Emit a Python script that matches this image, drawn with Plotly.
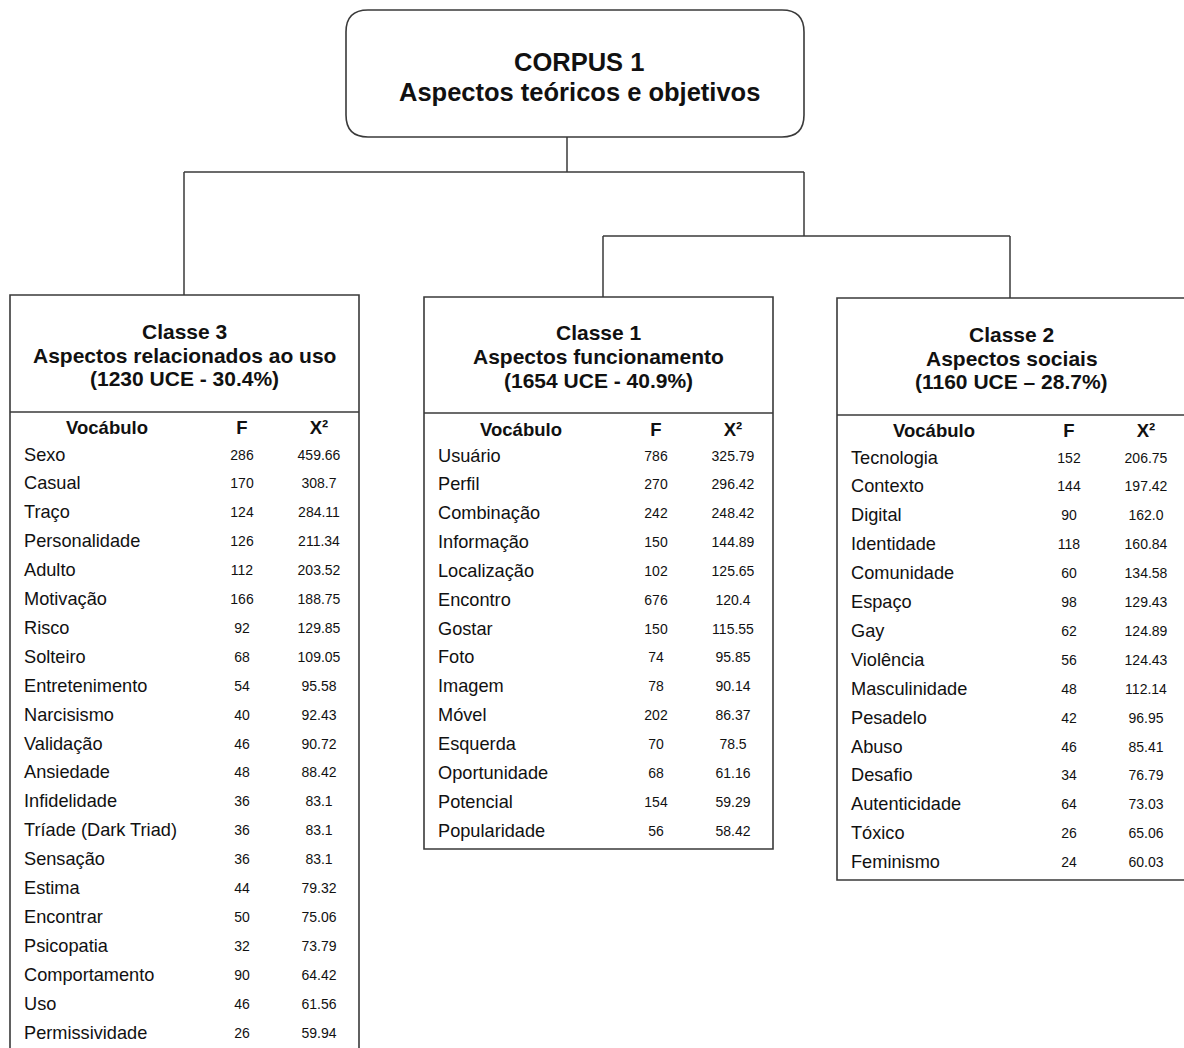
import plotly.graph_objects as go

# ---------------- data ----------------
corpus_title = ["CORPUS 1", "Aspectos teóricos e objetivos"]

col_headers = ["Vocábulo", "F", "X²"]

class3_title = ["Classe 3", "Aspectos relacionados ao uso", "(1230 UCE - 30.4%)"]
class3_words = ["Sexo", "Casual", "Traço", "Personalidade", "Adulto", "Motivação", "Risco",
                "Solteiro", "Entretenimento", "Narcisismo", "Validação", "Ansiedade",
                "Infidelidade", "Tríade (Dark Triad)", "Sensação", "Estima", "Encontrar",
                "Psicopatia", "Comportamento", "Uso", "Permissividade"]
class3_f = [286, 170, 124, 126, 112, 166, 92, 68, 54, 40, 46, 48, 36, 36, 36, 44, 50, 32, 90, 46, 26]
class3_x2 = [459.66, 308.7, 284.11, 211.34, 203.52, 188.75, 129.85, 109.05, 95.58, 92.43, 90.72,
             88.42, 83.1, 83.1, 83.1, 79.32, 75.06, 73.79, 64.42, 61.56, 59.94]

class1_title = ["Classe 1", "Aspectos funcionamento", "(1654 UCE - 40.9%)"]
class1_words = ["Usuário", "Perfil", "Combinação", "Informação", "Localização", "Encontro",
                "Gostar", "Foto", "Imagem", "Móvel", "Esquerda", "Oportunidade", "Potencial",
                "Popularidade"]
class1_f = [786, 270, 242, 150, 102, 676, 150, 74, 78, 202, 70, 68, 154, 56]
class1_x2 = [325.79, 296.42, 248.42, 144.89, 125.65, 120.4, 115.55, 95.85, 90.14, 86.37, 78.5,
             61.16, 59.29, 58.42]

class2_title = ["Classe 2", "Aspectos sociais", "(1160 UCE – 28.7%)"]
class2_words = ["Tecnologia", "Contexto", "Digital", "Identidade", "Comunidade", "Espaço", "Gay",
                "Violência", "Masculinidade", "Pesadelo", "Abuso", "Desafio", "Autenticidade",
                "Tóxico", "Feminismo"]
class2_f = [152, 144, 90, 118, 60, 98, 62, 56, 48, 42, 46, 34, 64, 26, 24]
class2_x2 = [206.75, 197.42, 162.0, 160.84, 134.58, 129.43, 124.89, 124.43, 112.14, 96.95, 85.41,
             76.79, 73.03, 65.06, 60.03]

# ---------------- layout constants ----------------
W, H = 1184, 1048
LINE = "#3a3a3a"
TXT = "#111111"
FONT = "Liberation Sans, Arial, sans-serif"

panels = [
    dict(title=class3_title, words=class3_words, f=class3_f, x2=class3_x2,
         left=10, right=359, top=295, div=412, bottom=1070,
         head_y=429, row0=456, step=28.9, title_y=[331, 355, 378]),
    dict(title=class1_title, words=class1_words, f=class1_f, x2=class1_x2,
         left=424, right=773, top=297, div=413, bottom=849,
         head_y=431, row0=457, step=28.85, title_y=[332, 356, 380]),
    dict(title=class2_title, words=class2_words, f=class2_f, x2=class2_x2,
         left=837, right=1190, top=298, div=415, bottom=880,
         head_y=432, row0=459, step=28.9, title_y=[334, 358, 381]),
]
OFF_WORD, OFF_VOC, OFF_F, OFF_X2 = 14, 97, 232, 309

fig = go.Figure()
shapes = []
annotations = []

# top rounded box
bx0, bx1, by0, by1, r = 346, 804, 10, 137, 22
path = (f"M {bx0+r},{by0} L {bx1-r},{by0} Q {bx1},{by0} {bx1},{by0+r} "
        f"L {bx1},{by1-r} Q {bx1},{by1} {bx1-r},{by1} L {bx0+r},{by1} "
        f"Q {bx0},{by1} {bx0},{by1-r} L {bx0},{by0+r} Q {bx0},{by0} {bx0+r},{by0} Z")
shapes.append(dict(type="path", path=path, line=dict(color=LINE, width=1.6)))
for txt, yy in zip(corpus_title, [62, 92]):
    annotations.append(dict(x=(bx0 + bx1) / 2 + 4, y=yy, text=f"<b>{txt}</b>", showarrow=False,
                            xanchor="center", yanchor="middle",
                            font=dict(family=FONT, size=25.5, color=TXT)))

# connectors
connectors = [
    (567, 137, 567, 172), (184, 172, 804, 172), (184, 172, 184, 295),
    (804, 172, 804, 236), (603, 236, 1010, 236), (603, 236, 603, 297),
    (1010, 236, 1010, 298),
]
for x0, y0, x1, y1 in connectors:
    shapes.append(dict(type="line", x0=x0, y0=y0, x1=x1, y1=y1, line=dict(color=LINE, width=1.5)))

for p in panels:
    L, R = p["left"], p["right"]
    shapes.append(dict(type="rect", x0=L, y0=p["top"], x1=R, y1=p["bottom"],
                       line=dict(color=LINE, width=1.6)))
    shapes.append(dict(type="line", x0=L, y0=p["div"], x1=R, y1=p["div"],
                       line=dict(color=LINE, width=1.6)))
    cx = (L + min(R, 1186)) / 2
    for txt, yy in zip(p["title"], p["title_y"]):
        annotations.append(dict(x=cx, y=yy, text=f"<b>{txt}</b>", showarrow=False,
                                xanchor="center", yanchor="middle",
                                font=dict(family=FONT, size=21, color=TXT)))
    # header row
    fig.add_trace(go.Scatter(
        x=[L + OFF_VOC, L + OFF_F, L + OFF_X2], y=[p["head_y"]] * 3,
        text=[f"<b>{h}</b>" for h in col_headers], mode="text", textposition="middle center",
        textfont=dict(family=FONT, size=18.5, color=TXT), hoverinfo="skip", showlegend=False))
    n = len(p["words"])
    ys = [p["row0"] + i * p["step"] for i in range(n)]
    fig.add_trace(go.Scatter(
        x=[L + OFF_WORD] * n, y=ys, text=p["words"], mode="text", textposition="middle right",
        textfont=dict(family=FONT, size=18.2, color=TXT), hoverinfo="skip", showlegend=False))
    fig.add_trace(go.Scatter(
        x=[L + OFF_F] * n, y=ys, text=[str(v) for v in p["f"]], mode="text",
        textposition="middle center",
        textfont=dict(family=FONT, size=14, color=TXT), hoverinfo="skip", showlegend=False))
    fig.add_trace(go.Scatter(
        x=[L + OFF_X2] * n, y=ys, text=[str(v) for v in p["x2"]], mode="text",
        textposition="middle center",
        textfont=dict(family=FONT, size=14, color=TXT), hoverinfo="skip", showlegend=False))

fig.update_layout(
    width=W, height=H, autosize=False,
    margin=dict(l=0, r=0, t=0, b=0, pad=0),
    paper_bgcolor="white", plot_bgcolor="white",
    xaxis=dict(range=[0, W], visible=False, fixedrange=True),
    yaxis=dict(range=[H, 0], visible=False, fixedrange=True),
    shapes=shapes, annotations=annotations, showlegend=False,
)

fig.write_html("out.html", config={"displayModeBar": False},
               post_script="document.body.style.margin='0';document.body.style.overflow='hidden';")
